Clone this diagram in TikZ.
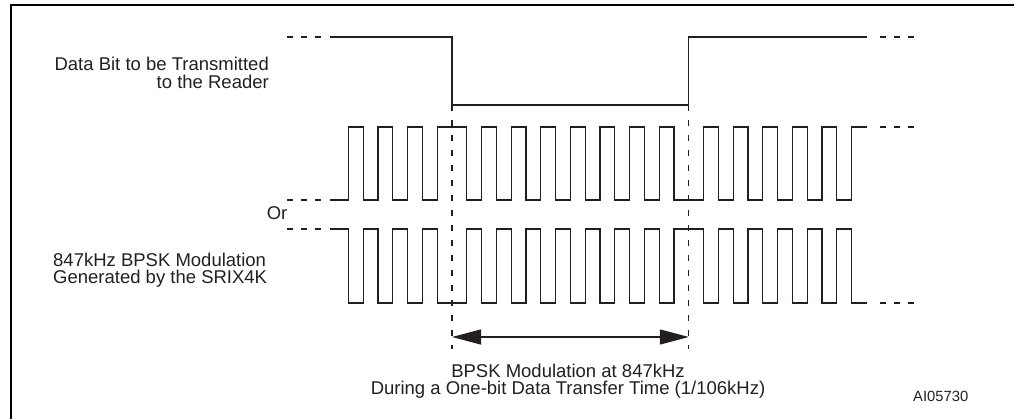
\documentclass[tikz,border=0pt]{standalone}
\usepackage{fontspec}
\setmainfont{Liberation Sans}
\usetikzlibrary{arrows.meta}
\definecolor{ink}{RGB}{35,31,32}
\begin{document}
\begin{tikzpicture}[x=1pt,y=-1pt,
  wave/.style={ink, line width=1.3pt, line join=miter},
  dots/.style={ink, line width=1.3pt, dash pattern=on 6pt off 8pt},
  vdash/.style={ink, line width=1.3pt, dash pattern=on 6pt off 9pt},
  lbl/.style={text=ink, inner sep=0pt, font=\fontsize{18.5}{20}\selectfont},
  small/.style={text=ink, inner sep=0pt, font=\fontsize{14.8}{16}\selectfont},
  frameline/.style={black, line width=2pt},
  span/.style={ink, line width=1.3pt, {Triangle[length=29pt,width=15pt]}-{Triangle[length=29pt,width=15pt]}}]
\useasboundingbox (0,0) rectangle (1014,419);
% frame
\draw[frameline] (11,421) -- (11,5) -- (1016,5);

% data bit waveform
\draw[dots] (287,37) -- (323,37);
\draw[wave] (330,37) -- (452,37) -- (452,105) -- (688.8,105) -- (688.8,37) -- (867,37);
\draw[dots] (880,37) -- (914,37);

% modulated waveform A
\draw[dots] (287,200) -- (323,200);
\draw[wave] (330,200) foreach \k [count=\i, evaluate=\i as \ya using {127+73*mod(\i+1,2)}] in {-7,-6,...,-1,1,2,...,15,17,18,...,27} { -| ({452+\k*14.8},\ya) } -- (867,127);
\draw[dots] (880,127) -- (914,127);

% modulated waveform B
\draw[dots] (287,229) -- (323,229);
\draw[wave] (330,229) foreach \k [count=\i, evaluate=\i as \yb using {303-74*mod(\i+1,2)}] in {-7,-6,...,-1,1,2,...,15,17,18,...,27} { -| ({452+\k*14.8},\yb) } -- (867,303);
\draw[dots] (880,303) -- (914,303);

% bit boundaries
\coordinate (b1t) at (452,105);
\coordinate (b1b) at (452,349);
\coordinate (b2t) at (688.8,105);
\coordinate (b2b) at (688.8,349);
\draw[vdash] (b1t) -- (b1b);
\draw[vdash] (b2t) -- (b2b);

% span arrow
\coordinate (a1) at (452,337);
\coordinate (a2) at (688.8,337);
\draw[span] (a1) -- (a2);

% labels
\node[lbl, anchor=base east] (t1) at (269,71) {Data Bit to be Transmitted};
\node[lbl, anchor=base east] (t2) at (269,89) {to the Reader};
\node[lbl, anchor=base east] (tor) at (287.5,220) {Or};
\node[lbl, anchor=base west] (t3) at (53,266.5) {847kHz BPSK Modulation};
\node[lbl, anchor=base west] (t4) at (53,284) {Generated by the SRIX4K};
\node[lbl, anchor=base] (t5) at (568,377) {BPSK Modulation at 847kHz};
\node[lbl, anchor=base] (t6) at (568,394.5) {During a One-bit Data Transfer Time (1/106kHz)};
\node[small, anchor=base west] (tid) at (913,401) {AI05730};
\end{tikzpicture}
\end{document}
